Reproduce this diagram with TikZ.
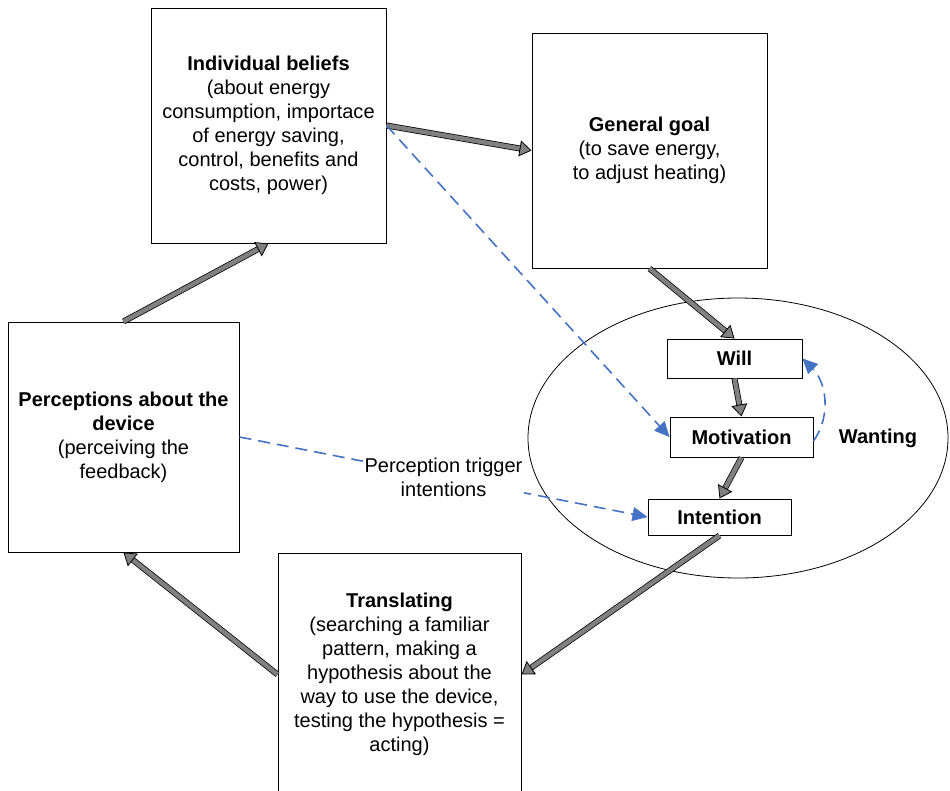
\documentclass[tikz,border=0pt]{standalone}
\usepackage{fontspec}
\setmainfont{Liberation Sans}
\usepackage{tikz}
\usetikzlibrary{arrows.meta}
\usetikzlibrary{shapes.geometric, positioning}
\definecolor{arrgray}{RGB}{128,128,128}
\definecolor{dashblue}{RGB}{68,114,196}
\tikzset{
    box/.style={
        rectangle,
        draw=black,
        fill=white,
        line width=1pt,
        align=center,
        inner sep=0pt,
        font=\fontsize{20}{24}\selectfont
    },
    arrow/.style={
        draw=arrgray,
        line width=4.5pt,
        -{Triangle[length=12pt,width=16pt,line width=0.8pt,color=black,fill=arrgray]},
        preaction={draw=black, line width=6pt, -, shorten >=6pt}
    },
    dasharrow/.style={
        draw=dashblue,
        line width=1.6pt,
        dash pattern=on 12pt off 7pt,
        -{Triangle[length=15pt,width=14pt,line width=0.5pt]}
    }
}

\begin{document}
\begin{tikzpicture}[x=1pt,y=-1pt]

    % Fix the page to the reference frame
    \useasboundingbox (0,0) rectangle (950,790);
    \clip (0,0) rectangle (950,790);

    % The "wanting" region
    \node[draw, ellipse, line width=0.8pt, minimum width=420, minimum height=280] (wantell) at (738,438) {};
    \node[font=\fontsize{20}{24}\selectfont\bfseries] (wanting) at (878,438) {Wanting};

    % Large boxes
    \node[box, minimum width=235, minimum height=235] (beliefs) at (268.5,125.5)
        {\textbf{Individual beliefs}\\(about energy\\consumption, importace\\of energy saving,\\control, benefits and\\costs, power)};
    \node[box, minimum width=235, minimum height=235] (goal) at (649.5,150.5)
        {\textbf{General goal}\\(to save energy,\\to adjust heating)};
    \node[box, minimum width=231, minimum height=230] (percep) at (123.5,437)
        {\textbf{Perceptions about the}\\\textbf{device}\\(perceiving the\\feedback)};
    \node[box, minimum width=243, minimum height=243] (transl) at (399.5,674.5)
        {\textbf{Translating}\\(searching a familiar\\pattern, making a\\hypothesis about the\\way to use the device,\\testing the hypothesis =\\acting)};

    % Small boxes inside the ellipse
    \node[box, font=\fontsize{20}{24}\selectfont\bfseries, minimum width=135, minimum height=39] (will) at (734.5,358.5) {Will};
    \node[box, font=\fontsize{20}{24}\selectfont\bfseries, minimum width=143, minimum height=40] (motiv) at (741.5,437) {Motivation};
    \node[box, font=\fontsize{20}{24}\selectfont\bfseries, minimum width=143, minimum height=36] (intent) at (719.5,517) {Intention};

    % Main cycle
    \draw[arrow] (beliefs.east) -- (goal.west);
    \draw[arrow] (goal.south) -- (will.north);
    \draw[arrow] (will.south) -- (motiv.north);
    \draw[arrow] (motiv.south) -- (intent.north);
    \draw[arrow] (intent.south) -- (transl.east);
    \draw[arrow] (transl.west) -- (percep.south);
    \draw[arrow] (percep.north) -- (beliefs.south);

    % Dashed influences
    \draw[dasharrow] (beliefs.east) -- (motiv.west);
    \draw[dasharrow] (percep.east) -- node[fill=white, align=center, inner sep=2pt, font=\fontsize{20}{24}\selectfont] (trigger) {Perception trigger\\intentions} (intent.west);
    \draw[dasharrow] ([yshift=-4]motiv.east) to[out=55, in=-45] (will.east);

\end{tikzpicture}
\end{document}
